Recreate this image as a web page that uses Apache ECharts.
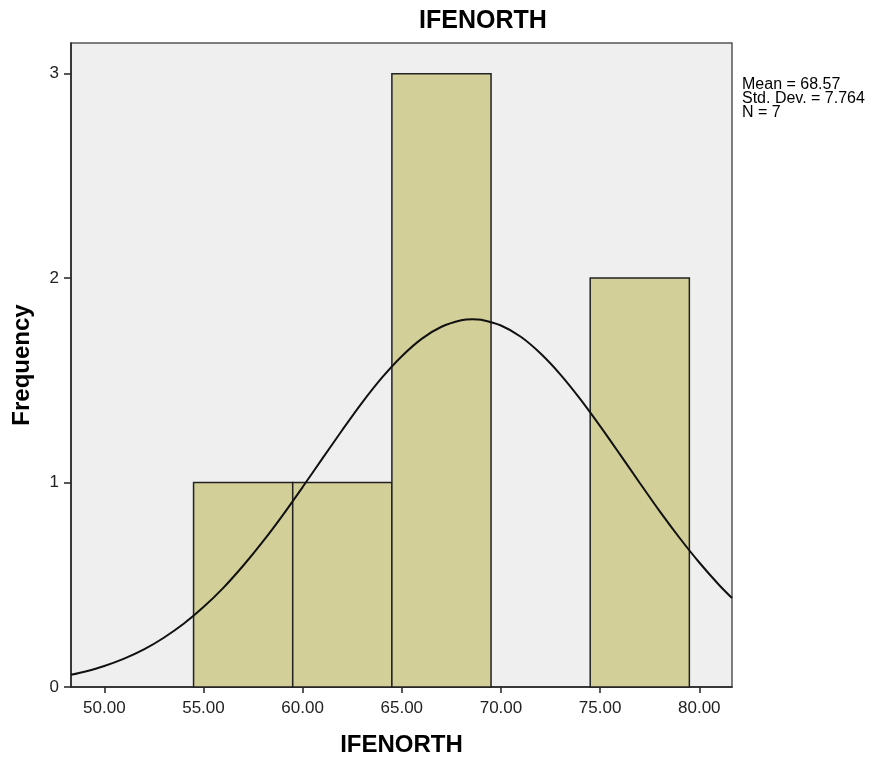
<!DOCTYPE html>
<html lang="en" style="height: 100%">
<head>
  <meta charset="utf-8">
</head>
<body style="height: 100%; margin: 0; background: #fff">
  <div id="container" style="width: 880px; height: 760px"></div>
  <script type="text/javascript" src="https://fastly.jsdelivr.net/npm/echarts@6/dist/echarts.min.js"></script>
  <script type="text/javascript">
    // histogram bins (lower edge, upper edge) and counts
    var binLow = [54.5, 59.5, 64.5, 69.5, 74.5];
    var binHigh = [59.5, 64.5, 69.5, 74.5, 79.5];
    var counts = [1, 1, 3, 0, 2];

    // normal curve
    var curveX = [48.32, 49, 50, 51, 52, 53, 54, 55, 56, 57, 58, 59, 60, 61, 62, 63, 64, 65, 66, 67, 68, 68.57,
                  69, 70, 71, 72, 73, 74, 75, 76, 77, 78, 79, 80, 81, 81.65];
    var curveY = [0.060, 0.075, 0.103, 0.139, 0.184, 0.241, 0.309, 0.391, 0.485, 0.593, 0.712, 0.841, 0.978,
                  1.118, 1.257, 1.391, 1.513, 1.618, 1.703, 1.762, 1.794, 1.799, 1.796, 1.768, 1.713, 1.631, 1.528,
                  1.408, 1.276, 1.138, 0.998, 0.860, 0.730, 0.609, 0.499, 0.435];

    var xTicks = ['50.00', '55.00', '60.00', '65.00', '70.00', '75.00', '80.00'];
    var statsLines = ['Mean = 68.57', 'Std. Dev. = 7.764', 'N = 7'];

    var font = 'Arial, "Liberation Sans", sans-serif';

    var bars = binLow.map(function (lo, i) { return [lo, binHigh[i], counts[i]]; })
      .filter(function (b) { return b[2] > 0; });
    var curve = curveX.map(function (x, i) { return [x, curveY[i]]; });

    var dom = document.getElementById('container');
    var myChart = echarts.init(dom, null, { renderer: 'canvas' });

    var graphics = [{
      type: 'text',
      x: 483,
      y: 21,
      style: {
        text: 'IFENORTH', fontFamily: font, fontSize: 25, fontWeight: 'bold', fill: '#000',
        align: 'center', verticalAlign: 'middle'
      }
    }];
    statsLines.forEach(function (t, i) {
      graphics.push({
        type: 'text',
        x: 742,
        y: 85 + i * 14,
        style: { text: t, fontFamily: font, fontSize: 16, fill: '#000', verticalAlign: 'middle' }
      });
    });

    var option = {
      animation: false,
      backgroundColor: '#ffffff',
      grid: {
        left: 71, top: 43, right: 148, bottom: 73,
        outerBoundsMode: 'none',
        containLabel: false,
        show: true,
        backgroundColor: '#efefef',
        borderColor: '#555',
        borderWidth: 1.5
      },
      xAxis: {
        type: 'value',
        min: 48.32,
        max: 81.65,
        name: 'IFENORTH',
        nameLocation: 'middle',
        nameGap: 58,
        nameTextStyle: { fontFamily: font, fontSize: 24, fontWeight: 'bold', color: '#000', verticalAlign: 'middle' },
        axisLine: { show: true, lineStyle: { color: '#222', width: 1.5 } },
        axisTick: {
          show: true, length: 6, lineStyle: { color: '#222', width: 1.5 },
          customValues: [50, 55, 60, 65, 70, 75, 80]
        },
        axisLabel: {
          fontFamily: font, fontSize: 17, color: '#222', margin: 13,
          customValues: [50, 55, 60, 65, 70, 75, 80],
          formatter: function (v) { return xTicks[Math.round((v - 50) / 5)]; }
        },
        splitLine: { show: false }
      },
      yAxis: {
        type: 'value',
        min: 0,
        max: 3.15,
        interval: 1,
        name: 'Frequency',
        nameLocation: 'middle',
        nameGap: 49,
        nameTextStyle: { fontFamily: font, fontSize: 24, fontWeight: 'bold', color: '#000', verticalAlign: 'middle' },
        axisLine: { show: true, lineStyle: { color: '#222', width: 1.5 } },
        axisTick: { show: true, length: 7, lineStyle: { color: '#222', width: 1.5 } },
        axisLabel: {
          fontFamily: font, fontSize: 17, color: '#222', margin: 12,
          showMaxLabel: false,
          formatter: function (v) { return v <= 3 ? String(v) : ''; }
        },
        splitLine: { show: false }
      },
      graphic: graphics,
      series: [
        {
          type: 'custom',
          data: bars,
          renderItem: function (params, api) {
            var p0 = api.coord([api.value(0), api.value(2)]);
            var p1 = api.coord([api.value(1), 0]);
            return {
              type: 'rect',
              shape: { x: p0[0], y: p0[1], width: p1[0] - p0[0], height: p1[1] - p0[1] },
              style: { fill: '#d3cf98', stroke: '#222', lineWidth: 1.5 }
            };
          },
          z: 2
        },
        {
          type: 'line',
          data: curve,
          smooth: 0.3,
          symbol: 'none',
          lineStyle: { color: '#111', width: 2 },
          z: 3
        }
      ]
    };

    myChart.setOption(option);
    window.addEventListener('resize', myChart.resize);
  </script>
</body>
</html>
